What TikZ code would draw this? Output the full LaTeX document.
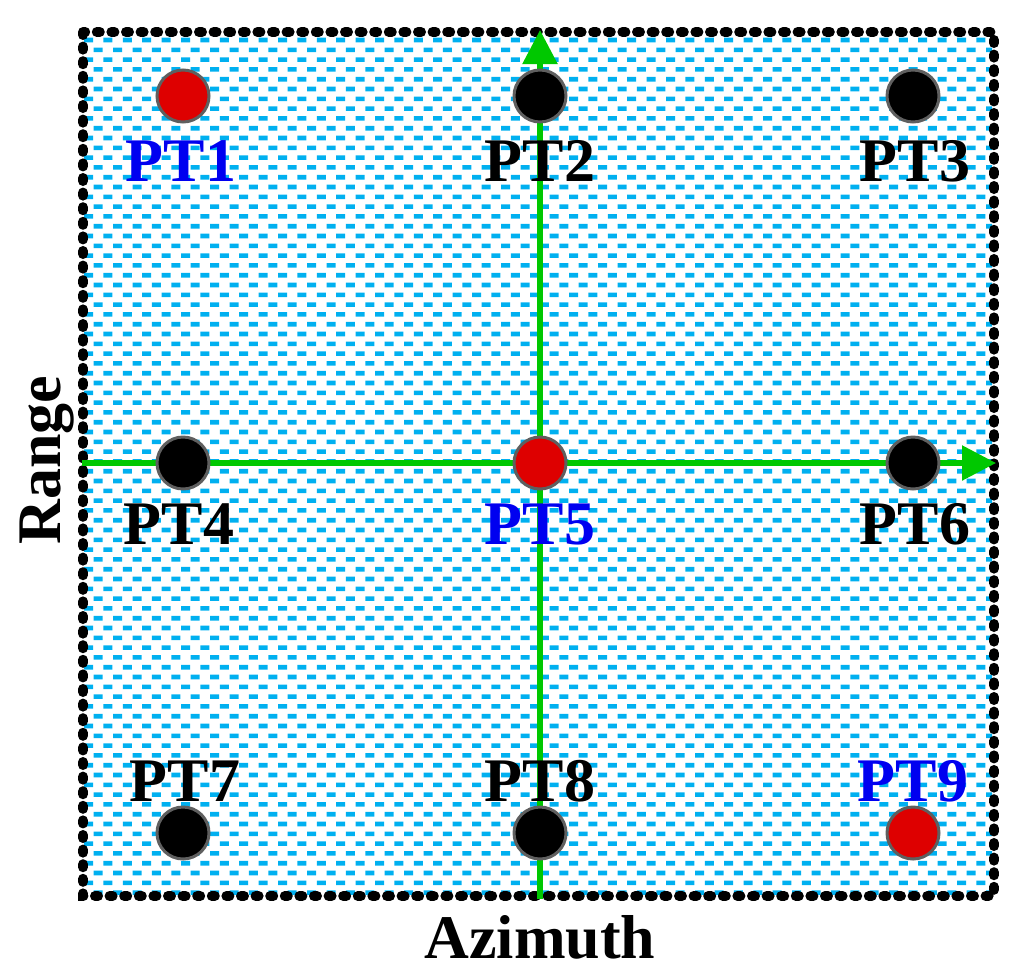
\documentclass[tikz,border=0pt]{standalone}
\usepackage{fontspec}
\setmainfont{Liberation Serif}
\usetikzlibrary{arrows.meta}
\definecolor{patcol}{RGB}{0,176,240}
\definecolor{ptred}{RGB}{222,0,0}
\definecolor{axgreen}{RGB}{0,200,0}
\definecolor{ptblue}{RGB}{0,0,240}
\definecolor{rimgray}{RGB}{95,95,95}
\tikzset{
  ptdot/.style={circle,minimum size=52pt,inner sep=0pt,draw=rimgray,line width=3pt},
  blackpt/.style={ptdot,fill=black},
  redpt/.style={ptdot,fill=ptred},
  ptlabel/.style={font=\fontsize{62}{62}\selectfont\bfseries,anchor=base,inner sep=0pt},
  axis/.style={draw=axgreen,line width=5.5pt,-{Triangle[length=34pt,width=34pt]}},
  frameline/.style={line width=10pt,dash pattern=on 3pt off 11.6pt,line cap=round}
}
\begin{document}
\begin{tikzpicture}[x=1pt,y=-1pt]
\useasboundingbox (0,0) rectangle (1035,978);
% pattern
\begin{scope}
\clip (84,34) rectangle (992,894);
\fill[patcol] foreach \r [evaluate=\r as \yy using {40+9.8*\r}, evaluate=\r as \off using {mod(\r,2)*9.7}] in {0,...,87} {
  foreach \c [evaluate=\c as \xx using {84+\off+19.4*\c}] in {0,...,47} {
    (\xx,\yy-2.3) rectangle (\xx+9,\yy+2.3)
  }
};
\end{scope}
% frame
\draw[frameline] (83,32) rectangle (994,896);
% axes
\coordinate (hs) at (82,463);
\coordinate (he) at (996,463);
\coordinate (vs) at (540,899);
\coordinate (ve) at (540,30);
\draw[axis] (hs) -- (he);
\draw[axis] (vs) -- (ve);
% points
\node[redpt]   (p1) at (183,96) {};
\node[blackpt] (p2) at (540,96) {};
\node[blackpt] (p3) at (913,96) {};
\node[blackpt] (p4) at (183,463) {};
\node[redpt]   (p5) at (540,463) {};
\node[blackpt] (p6) at (913,463) {};
\node[blackpt] (p7) at (183,833) {};
\node[blackpt] (p8) at (540,833) {};
\node[redpt]   (p9) at (913,833) {};
% labels
\node[ptlabel,text=ptblue] (l1) at (181,181) {PT1};
\node[ptlabel] (l2) at (540,181) {PT2};
\node[ptlabel] (l3) at (915,181) {PT3};
\node[ptlabel] (l4) at (179,544) {PT4};
\node[ptlabel,text=ptblue] (l5) at (540,544) {PT5};
\node[ptlabel] (l6) at (915,544) {PT6};
\node[ptlabel] (l7) at (185,801) {PT7};
\node[ptlabel] (l8) at (540,801) {PT8};
\node[ptlabel,text=ptblue] (l9) at (913,801) {PT9};
% axis titles
\node[ptlabel] (az) at (540,958) {Azimuth};
\node[ptlabel,rotate=90] (rg) at (60,460) {Range};
\end{tikzpicture}
\end{document}
